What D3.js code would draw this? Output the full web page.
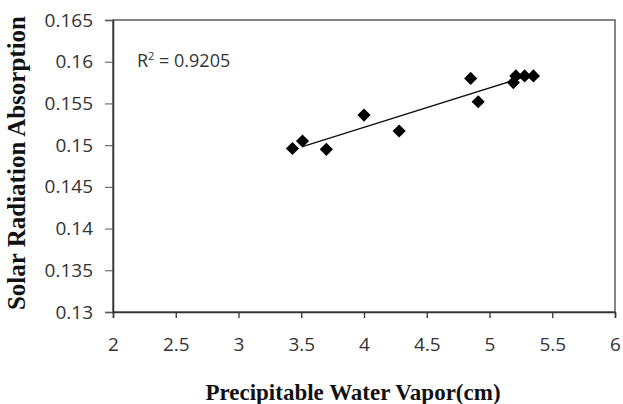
<!DOCTYPE html>
<html>
<head>
<meta charset="utf-8">
<script src="https://cdn.jsdelivr.net/npm/d3@7"></script>
<style>
  body { margin: 0; background: #fff; }
  svg { display: block; }
</style>
</head>
<body>
<svg id="chart" width="623" height="404"></svg>
<script>
const pwv = [3.43, 3.51, 3.70, 4.00, 4.28, 4.85, 4.91, 5.19, 5.21, 5.28, 5.35]
const absorption = [0.1496, 0.1505, 0.1495, 0.1536, 0.1517, 0.1580, 0.1552, 0.1575, 0.1583, 0.1583, 0.1583]
const xTicks = [2, 2.5, 3, 3.5, 4, 4.5, 5, 5.5, 6]
const yTicks = [0.13, 0.135, 0.14, 0.145, 0.15, 0.155, 0.16, 0.165]
const trendRange = [3.51, 5.30]
const r2Label = '0.9205'

const svg = d3.select('#chart')
const margin = { left: 113, right: 8, top: 20, bottom: 92 }
const W = 623, H = 404

const x = d3.scaleLinear().domain([2, 6]).range([margin.left, W - margin.right])
const y = d3.scaleLinear().domain([0.13, 0.165]).range([H - margin.bottom, margin.top])

const tickFont = '"Open Sans", sans-serif'
const titleFont = '"Liberation Serif", "Times New Roman", serif'

// 绘图区边框
svg.append('rect')
    .attr('x', x(2)).attr('y', y(0.165))
    .attr('width', x(6) - x(2)).attr('height', y(0.13) - y(0.165))
    .attr('fill', 'none').attr('stroke', '#444').attr('stroke-width', 1.3)

// y 轴
const yAxis = svg.append('g')
    .attr('transform', `translate(${x(2)},0)`)
    .call(d3.axisLeft(y).tickValues(yTicks).tickSize(8).tickPadding(12).tickFormat((d) => d3.format('')(+d.toFixed(3))))
yAxis.select('.domain').attr('stroke', '#333').attr('stroke-width', 1.5)
yAxis.selectAll('.tick line').attr('stroke', '#555')
yAxis.selectAll('text').attr('font-family', tickFont).attr('font-size', '19px').attr('fill', '#333')

// x 轴
const xAxis = svg.append('g')
    .attr('transform', `translate(0,${y(0.13)})`)
    .call(d3.axisBottom(x).tickValues(xTicks).tickSize(6).tickPadding(20).tickFormat((d) => d3.format('')(d)))
xAxis.select('.domain').attr('stroke', '#333').attr('stroke-width', 1.5)
xAxis.selectAll('.tick line').attr('stroke', '#333').attr('stroke-width', 1.3)
xAxis.selectAll('text').attr('font-family', tickFont).attr('font-size', '19px').attr('fill', '#333')

// 线性拟合
const n = pwv.length
const mx = d3.mean(pwv), my = d3.mean(absorption)
let sxy = 0, sxx = 0
for (let i = 0; i < n; i++) {
    sxy += (pwv[i] - mx) * (absorption[i] - my)
    sxx += (pwv[i] - mx) ** 2
}
const slope = sxy / sxx
const icpt = my - slope * mx

svg.append('line')
    .attr('x1', x(trendRange[0])).attr('y1', y(icpt + slope * trendRange[0]))
    .attr('x2', x(trendRange[1])).attr('y2', y(icpt + slope * trendRange[1]))
    .attr('stroke', '#111').attr('stroke-width', 1.3)

// 菱形散点
const diamond = d3.symbol().type(d3.symbolDiamond2).size(110)
svg.append('g')
    .selectAll('path')
    .data(pwv)
    .join('path')
    .attr('d', diamond)
    .attr('transform', (d, i) => `translate(${x(d)},${y(absorption[i])})`)
    .attr('fill', '#000')

// R² 标注
const r2 = svg.append('text')
    .attr('x', 137).attr('y', 67)
    .attr('font-family', tickFont).attr('font-size', '18px').attr('fill', '#333')
r2.append('tspan').text('R')
r2.append('tspan').text('2').attr('font-size', '11px').attr('dy', -7)
r2.append('tspan').text(' = ' + r2Label).attr('dy', 7)

// 轴标题
svg.append('text')
    .attr('x', 353).attr('y', 400)
    .attr('text-anchor', 'middle')
    .attr('font-family', titleFont).attr('font-weight', 'bold').attr('font-size', '23px').attr('fill', '#111')
    .text('Precipitable Water Vapor(cm)')

svg.append('text')
    .attr('transform', `translate(25,${(y(0.13) + y(0.165)) / 2 - 3}) rotate(-90)`)
    .attr('text-anchor', 'middle')
    .attr('font-family', titleFont).attr('font-weight', 'bold').attr('font-size', '25px').attr('fill', '#111')
    .text('Solar Radiation Absorption')
</script>
</body>
</html>
